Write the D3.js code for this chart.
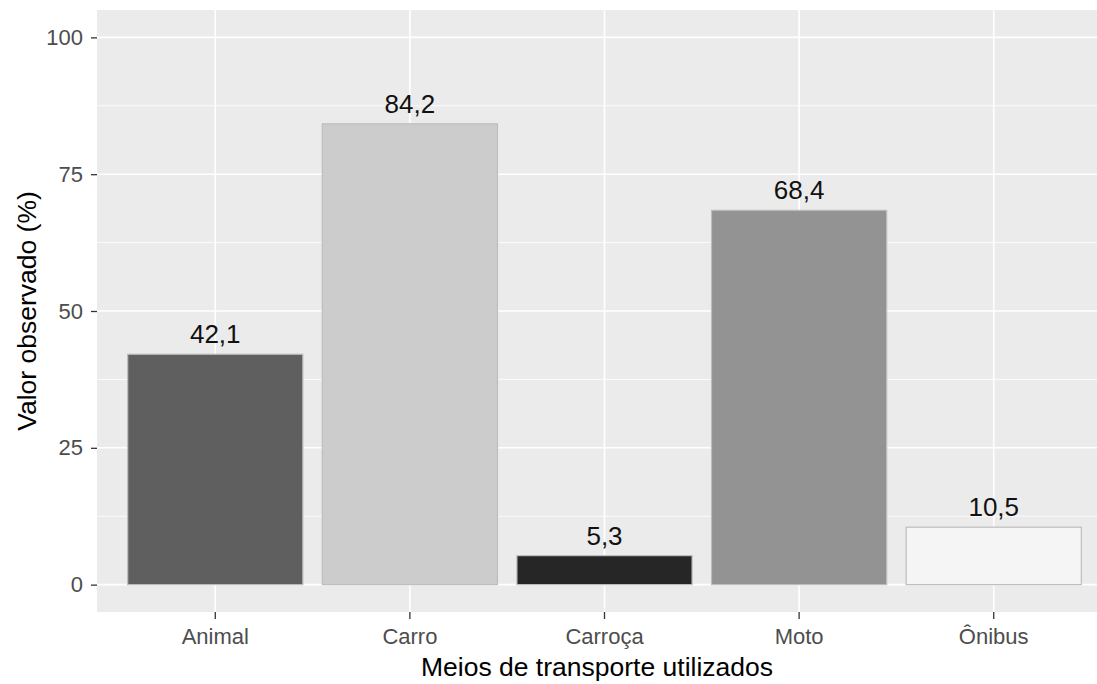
<!DOCTYPE html>
<html>
<head>
<meta charset="utf-8">
<script src="https://cdn.jsdelivr.net/npm/d3@7"></script>
<style>
  html, body { margin: 0; padding: 0; background: #ffffff; }
  svg { display: block; }
</style>
</head>
<body>
<svg id="chart" width="1097" height="684"></svg>
<script>
const categories = ["Animal", "Carro", "Carroça", "Moto", "Ônibus"];
const values = [42.1, 84.2, 5.3, 68.4, 10.5];
const valueLabels = ["42,1", "84,2", "5,3", "68,4", "10,5"];
const fills = ["#5f5f5f", "#cccccc", "#262626", "#939393", "#f5f5f5"];
const yTicks = [0, 25, 50, 75, 100];
const yMinor = [12.5, 37.5, 62.5, 87.5];
const xTitle = "Meios de transporte utilizados";
const yTitle = "Valor observado (%)";

const W = 1097, H = 684;
const panel = { left: 97, top: 10, right: 1109, bottom: 612 };
const font = "'Liberation Sans', Arial, sans-serif";

const svg = d3.select("#chart");

const x = d3.scaleBand()
  .domain(categories)
  .range([panel.left + 1.5, panel.right + 1.5])
  .paddingInner(0.1)
  .paddingOuter(0.15);

const y = d3.scaleLinear()
  .domain([-5, 105])
  .range([panel.bottom, panel.top]);

// panel background
svg.append("rect")
  .attr("x", panel.left).attr("y", panel.top)
  .attr("width", panel.right - panel.left).attr("height", panel.bottom - panel.top)
  .attr("fill", "#ebebeb");

const grid = svg.append("g");
grid.selectAll("line.minor").data(yMinor).join("line")
  .attr("class", "minor")
  .attr("x1", panel.left).attr("x2", panel.right)
  .attr("y1", d => y(d)).attr("y2", d => y(d))
  .attr("stroke", "#ffffff").attr("stroke-width", 0.8);
grid.selectAll("line.majy").data(yTicks).join("line")
  .attr("class", "majy")
  .attr("x1", panel.left).attr("x2", panel.right)
  .attr("y1", d => y(d)).attr("y2", d => y(d))
  .attr("stroke", "#ffffff").attr("stroke-width", 1.6);
grid.selectAll("line.majx").data(categories).join("line")
  .attr("class", "majx")
  .attr("x1", d => x(d) + x.bandwidth() / 2).attr("x2", d => x(d) + x.bandwidth() / 2)
  .attr("y1", panel.top).attr("y2", panel.bottom)
  .attr("stroke", "#ffffff").attr("stroke-width", 1.6);

// bars
svg.append("g").selectAll("rect").data(categories).join("rect")
  .attr("x", d => x(d))
  .attr("width", x.bandwidth())
  .attr("y", (d, i) => y(values[i]))
  .attr("height", (d, i) => y(0) - y(values[i]))
  .attr("fill", (d, i) => fills[i])
  .attr("stroke", "#bdbdbd")
  .attr("stroke-width", 1.2);

// value labels
svg.append("g").selectAll("text").data(categories).join("text")
  .attr("x", d => x(d) + x.bandwidth() / 2)
  .attr("y", (d, i) => y(values[i]) - 11)
  .attr("text-anchor", "middle")
  .attr("font-family", font)
  .attr("font-size", 26)
  .attr("fill", "#111111")
  .text((d, i) => valueLabels[i]);

// y axis
const yAxis = d3.axisLeft(y).tickValues(yTicks).tickSize(6).tickPadding(8).tickFormat(d3.format("d"));
const gy = svg.append("g").attr("transform", `translate(${panel.left},0)`).call(yAxis);
gy.select(".domain").remove();
gy.selectAll(".tick line").attr("stroke", "#333333").attr("stroke-width", 1.3);
gy.selectAll(".tick text")
  .attr("font-family", font).attr("font-size", 22)
  .attr("fill", "#4d4d4d");

// x axis
const xAxis = d3.axisBottom(x).tickSize(7).tickPadding(9);
const gx = svg.append("g").attr("transform", `translate(0,${panel.bottom})`).call(xAxis);
gx.select(".domain").remove();
gx.selectAll(".tick line").attr("stroke", "#333333").attr("stroke-width", 1.3);
gx.selectAll(".tick text")
  .attr("font-family", font).attr("font-size", 22)
  .attr("fill", "#4d4d4d");

// axis titles
svg.append("text")
  .attr("x", (panel.left + W) / 2)
  .attr("y", 676)
  .attr("text-anchor", "middle")
  .attr("font-family", font).attr("font-size", 26.5)
  .attr("fill", "#000000")
  .text(xTitle);

svg.append("text")
  .attr("transform", `translate(36,${(panel.top + panel.bottom) / 2}) rotate(-90)`)
  .attr("text-anchor", "middle")
  .attr("font-family", font).attr("font-size", 26.5)
  .attr("fill", "#000000")
  .text(yTitle);
</script>
</body>
</html>
